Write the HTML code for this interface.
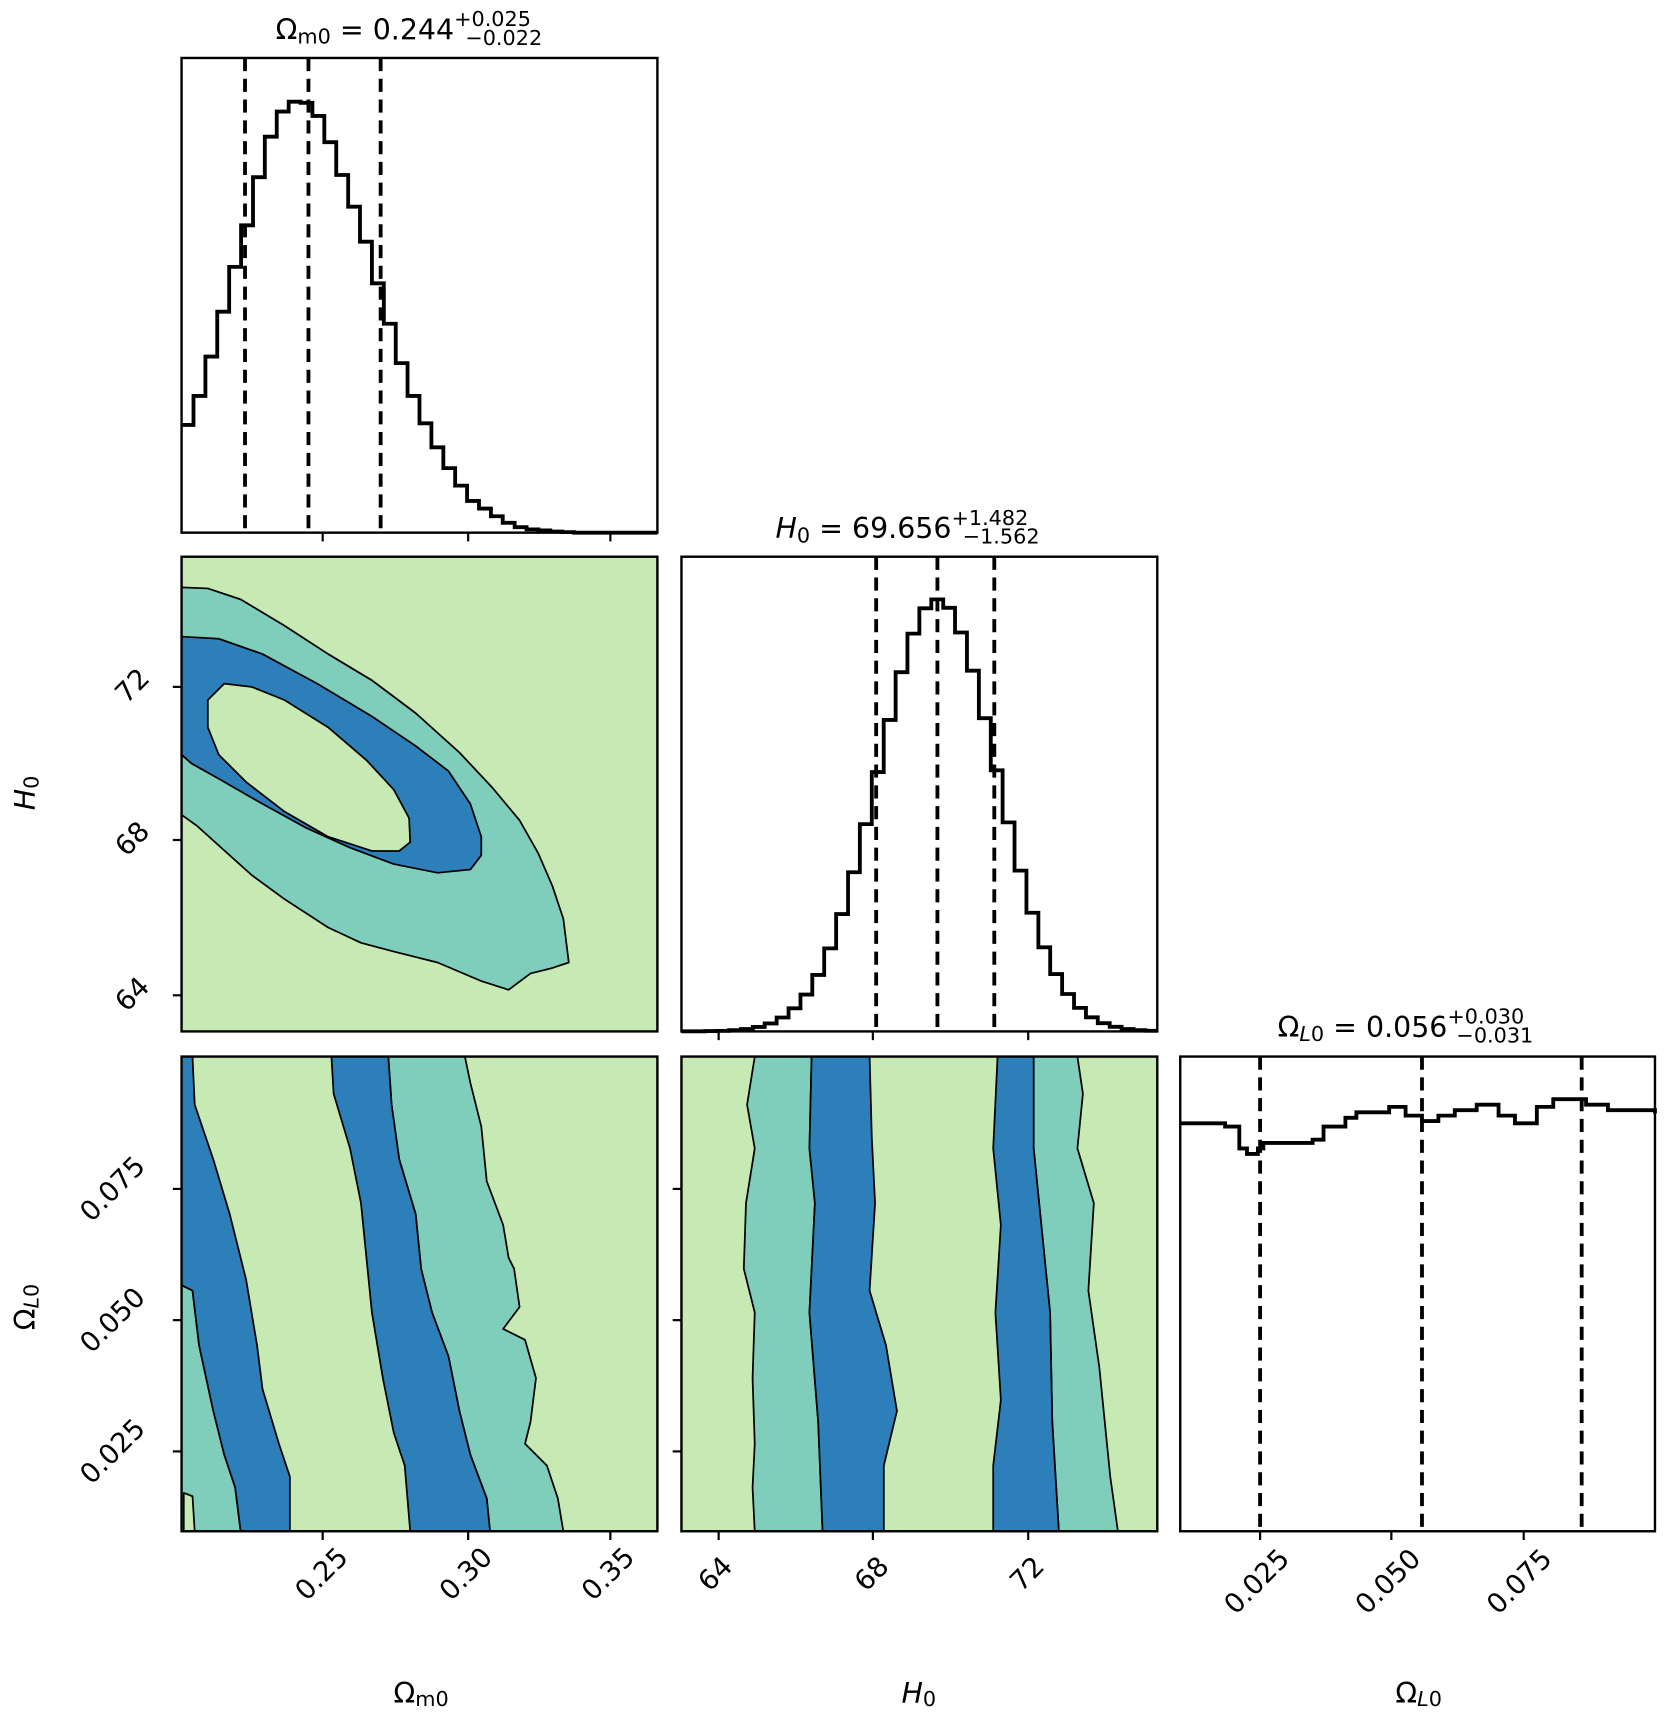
<!DOCTYPE html>
<html><head><meta charset="utf-8"><style>
html,body{margin:0;padding:0;background:#fff;}
svg{display:block;}
text{font-family:"DejaVu Sans","Liberation Sans",sans-serif;fill:#000;}
</style></head><body>
<svg id="s" width="1667" height="1715" viewBox="0 0 1524 1568" preserveAspectRatio="none" xmlns="http://www.w3.org/2000/svg">
<rect width="1524" height="1568" fill="#fff"/>
<!-- contour panel row2 col1 -->
<g stroke="#000" stroke-width="1.6" stroke-linejoin="round">
<rect x="166" y="509" width="435" height="434" fill="#c7e9b4" stroke="none"/>
<path fill="#7fcdbb" d="M166,537 L190,538 220,548 260,572 300,598 340,622 380,652 420,688 450,720 475,750 492,780 505,810 515,840 520,880 505,885 485,890 465,905 440,897 400,880 360,870 330,862 300,848 260,822 230,800 200,773 180,755 166,745 Z"/>
<path fill="#2c7fb8" d="M166,582 L200,584 240,598 290,625 340,655 380,682 410,705 430,735 440,765 440,782 430,795 400,798 360,790 320,775 280,757 240,735 200,712 175,698 166,690 Z"/>
<path fill="#c7e9b4" d="M205,625 L230,628 260,640 300,665 335,695 360,722 374,748 375,770 365,778 340,778 300,765 260,742 225,715 200,690 190,665 190,640 Z"/>
</g>
<!-- row3 col1 -->
<g stroke="#000" stroke-width="1.6" stroke-linejoin="round">
<rect x="166" y="966" width="435" height="434" fill="#c7e9b4" stroke="none"/>
<path fill="#7fcdbb" d="M166,1175 L176,1180 182,1230 195,1290 205,1330 215,1360 220,1400 166,1400 Z"/>
<path fill="#c7e9b4" d="M168,1365 L176,1368 178,1400 168,1400 Z"/>
<path fill="#2c7fb8" d="M166,966 L176,966 178,1010 195,1060 210,1110 225,1170 235,1230 240,1270 255,1320 265,1350 265,1400 220,1400 215,1360 205,1330 195,1290 182,1230 176,1180 166,1175 Z"/>
<path fill="#7fcdbb" d="M355,966 L425,966 430,990 440,1030 445,1080 460,1120 465,1150 470,1160 475,1195 460,1215 480,1225 490,1260 485,1300 480,1320 500,1340 510,1370 515,1400 448,1400 445,1370 430,1330 420,1290 410,1240 395,1200 385,1160 380,1110 365,1060 358,1010 Z"/>
<path fill="#2c7fb8" d="M303,966 L355,966 358,1010 365,1060 380,1110 385,1160 395,1200 410,1240 420,1290 430,1330 445,1370 448,1400 375,1400 370,1340 360,1310 350,1260 340,1200 335,1150 330,1100 320,1050 305,1000 Z"/>
</g>
<!-- row3 col2 -->
<g stroke="#000" stroke-width="1.6" stroke-linejoin="round">
<rect x="623" y="966" width="435" height="434" fill="#c7e9b4" stroke="none"/>
<path fill="#7fcdbb" d="M690,966 L742,966 740,1050 745,1100 740,1200 748,1300 752,1400 690,1400 688,1360 690,1320 688,1260 690,1200 680,1160 682,1100 690,1050 683,1010 Z"/>
<path fill="#2c7fb8" d="M742,966 L795,966 797,1040 800,1100 795,1180 810,1230 820,1290 808,1340 808,1400 752,1400 748,1300 740,1200 745,1100 740,1050 Z"/>
<path fill="#7fcdbb" d="M945,966 L985,966 990,1000 985,1050 1000,1100 995,1180 1005,1250 1010,1300 1015,1350 1022,1400 968,1400 962,1300 960,1200 950,1100 945,1050 Z"/>
<path fill="#2c7fb8" d="M912,966 L945,966 945,1050 950,1100 960,1200 962,1300 968,1400 908,1400 908,1340 915,1280 910,1200 915,1120 908,1050 Z"/>
</g>
<g id="hists" fill="none" stroke="#000" stroke-width="3.5"></g>
<!-- dashed lines -->
<g stroke="#000" stroke-width="3.5" stroke-dasharray="12,7">
<line x1="224" y1="53" x2="224" y2="487"/><line x1="282" y1="53" x2="282" y2="487"/><line x1="348" y1="53" x2="348" y2="487"/>
<line x1="801" y1="509" x2="801" y2="943"/><line x1="857" y1="509" x2="857" y2="943"/><line x1="909" y1="509" x2="909" y2="943"/>
<line x1="1152" y1="966" x2="1152" y2="1400"/><line x1="1300" y1="966" x2="1300" y2="1400"/><line x1="1446" y1="966" x2="1446" y2="1400"/>
</g>
<!-- frames -->
<g fill="none" stroke="#000" stroke-width="2.2">
<rect x="166" y="53" width="435" height="434"/>
<rect x="166" y="509" width="435" height="434"/><rect x="623" y="509" width="435" height="434"/>
<rect x="166" y="966" width="435" height="434"/><rect x="623" y="966" width="435" height="434"/><rect x="1079" y="966" width="434" height="434"/>
</g>
<!-- ticks -->
<g stroke="#000" stroke-width="2">
<line x1="295" y1="487" x2="295" y2="495"/><line x1="428" y1="487" x2="428" y2="495"/><line x1="558" y1="487" x2="558" y2="495"/>
<line x1="657" y1="943" x2="657" y2="951"/><line x1="798" y1="943" x2="798" y2="951"/><line x1="940" y1="943" x2="940" y2="951"/>
<line x1="158" y1="628" x2="166" y2="628"/><line x1="158" y1="768" x2="166" y2="768"/><line x1="158" y1="910" x2="166" y2="910"/>
<line x1="158" y1="1087" x2="166" y2="1087"/><line x1="158" y1="1207" x2="166" y2="1207"/><line x1="158" y1="1327" x2="166" y2="1327"/>
<line x1="615" y1="1087" x2="623" y2="1087"/><line x1="615" y1="1207" x2="623" y2="1207"/><line x1="615" y1="1327" x2="623" y2="1327"/>
<line x1="295" y1="1400" x2="295" y2="1408"/><line x1="428" y1="1400" x2="428" y2="1408"/><line x1="558" y1="1400" x2="558" y2="1408"/>
<line x1="657" y1="1400" x2="657" y2="1408"/><line x1="798" y1="1400" x2="798" y2="1408"/><line x1="940" y1="1400" x2="940" y2="1408"/>
<line x1="1152" y1="1400" x2="1152" y2="1408"/><line x1="1272" y1="1400" x2="1272" y2="1408"/><line x1="1393" y1="1400" x2="1393" y2="1408"/>
</g>
<!-- tick labels -->
<g font-size="25" text-anchor="middle" dominant-baseline="middle">
<text transform="translate(295,1440) rotate(-45)">0.25</text>
<text transform="translate(427,1440) rotate(-45)">0.30</text>
<text transform="translate(557,1440) rotate(-45)">0.35</text>
<text transform="translate(655,1440) rotate(-45)">64</text>
<text transform="translate(798,1440) rotate(-45)">68</text>
<text transform="translate(940,1440) rotate(-45)">72</text>
<text transform="translate(1150,1447) rotate(-45)">0.025</text>
<text transform="translate(1270,1447) rotate(-45)">0.050</text>
<text transform="translate(1390,1447) rotate(-45)">0.075</text>
<text transform="translate(122,628) rotate(-45)">72</text>
<text transform="translate(122,768) rotate(-45)">68</text>
<text transform="translate(122,910) rotate(-45)">64</text>
<text transform="translate(104,1088) rotate(-45)">0.075</text>
<text transform="translate(104,1208) rotate(-45)">0.050</text>
<text transform="translate(104,1328) rotate(-45)">0.025</text>
</g>
<!-- axis labels -->
<g font-size="26" text-anchor="middle">
<text x="385" y="1557">Ω<tspan font-size="19" dy="3">m0</tspan></text>
<text x="840" y="1557"><tspan font-style="italic">H</tspan><tspan font-size="19" dy="3">0</tspan></text>
<text x="1297" y="1557">Ω<tspan font-size="19" dy="3" font-style="italic">L</tspan><tspan font-size="19">0</tspan></text>
<text transform="translate(32,725) rotate(-90)"><tspan font-style="italic">H</tspan><tspan font-size="19" dy="3">0</tspan></text>
<text transform="translate(32,1195) rotate(-90)">Ω<tspan font-size="19" dy="3" font-style="italic">L</tspan><tspan font-size="19">0</tspan></text>
</g>
<!-- titles -->
<g font-size="26">
<text x="252" y="36">Ω<tspan font-size="19" dy="4">m0</tspan><tspan dy="-4"> = 0.244</tspan><tspan font-size="19" dy="-12">+0.025</tspan><tspan font-size="19" dx="-60" dy="17">−0.022</tspan></text>
<text x="709" y="492"><tspan font-style="italic">H</tspan><tspan font-size="19" dy="4">0</tspan><tspan dy="-4"> = 69.656</tspan><tspan font-size="19" dy="-12">+1.482</tspan><tspan font-size="19" dx="-60" dy="17">−1.562</tspan></text>
<text x="1168" y="948">Ω<tspan font-size="19" dy="4" font-style="italic">L</tspan><tspan font-size="19">0</tspan><tspan dy="-4"> = 0.056</tspan><tspan font-size="19" dy="-12">+0.030</tspan><tspan font-size="19" dx="-62" dy="17">−0.031</tspan></text>
</g>
</svg>
<script>
(function(){
var g=document.getElementById('hists');
function step(x0,w,vals){var d='M'+x0+','+vals[0];for(var i=0;i<vals.length;i++){var xa=x0+i*w,xb=xa+w;d+=' L'+xa.toFixed(1)+','+vals[i]+' L'+xb.toFixed(1)+','+vals[i];}return d;}
var h1=[388.5,362,326,285,244,206,162,125,102,93,94,106,130,160,189,221,259,296,332,362,387,409,428,444,458,465,472,478,482,484,485,486,486.5,487,487,487,487,487,487,487];
var p=document.createElementNS('http://www.w3.org/2000/svg','path');p.setAttribute('d',step(166,10.875,h1));g.appendChild(p);
var h2=[];for(var i=0;i<40;i++){var xc=623+(i+0.5)*10.875;var v=943-395*Math.exp(-0.5*Math.pow((xc-857)/54,2));h2.push(v.toFixed(1));}
p=document.createElementNS('http://www.w3.org/2000/svg','path');p.setAttribute('d',step(623,10.875,h2));g.appendChild(p);
var pts=[[1079,1027],[1120,1030],[1133,1050],[1140,1055],[1150,1050],[1155,1045],[1200,1042],[1210,1030],[1230,1022],[1240,1017],[1270,1012],[1285,1020],[1300,1025],[1315,1020],[1330,1015],[1350,1010],[1370,1020],[1385,1027],[1405,1012],[1420,1005],[1450,1010],[1470,1015],[1513,1018]];
var d='M'+pts[0][0]+','+pts[0][1];for(var k=1;k<pts.length;k++){d+=' L'+pts[k][0]+','+pts[k-1][1]+' L'+pts[k][0]+','+pts[k][1];}
p=document.createElementNS('http://www.w3.org/2000/svg','path');p.setAttribute('d',d);g.appendChild(p);
})();
</script>
</body></html>
